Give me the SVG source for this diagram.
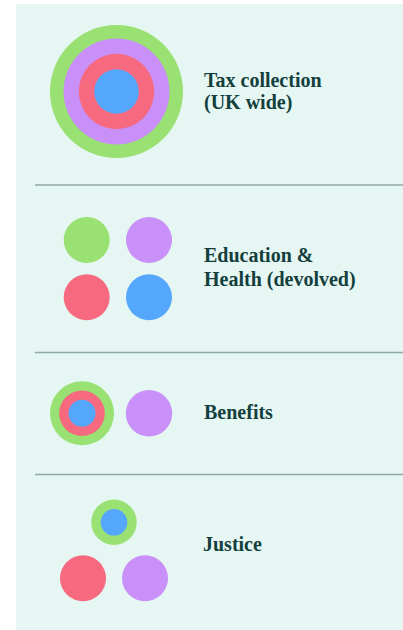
<svg xmlns="http://www.w3.org/2000/svg" width="403" height="630" viewBox="0 0 403 630">
<style>
.g{fill:#98e172}.p{fill:#c890f8}.r{fill:#f7697e}.b{fill:#55a7fd}
.t{font-family:"Liberation Serif","DejaVu Serif",serif;font-weight:bold;font-size:20px;fill:#133f3d}
.sep{stroke:#8fa9a6;stroke-width:1.5}
</style>
<rect x="16" y="4" width="387" height="626" fill="#e6f6f3"/>
<g id="separators">
<line class="sep" x1="35" y1="185" x2="403" y2="185"/>
<line class="sep" x1="35" y1="352.5" x2="403" y2="352.5"/>
<line class="sep" x1="35" y1="474.5" x2="403" y2="474.5"/>
</g>
<g id="tax">
<circle class="g" cx="116.5" cy="91.5" r="66.5"/>
<circle class="p" cx="116.5" cy="91.5" r="53"/>
<circle class="r" cx="116.5" cy="91.5" r="37.7"/>
<circle class="b" cx="116.5" cy="91.5" r="22.3"/>
<text class="t" x="204" y="86.5">Tax collection</text>
<text class="t" x="204" y="109">(UK wide)</text>
</g>
<g id="education">
<circle class="g" cx="86.7" cy="240" r="23"/>
<circle class="p" cx="149" cy="240" r="23"/>
<circle class="r" cx="86.7" cy="297.3" r="23"/>
<circle class="b" cx="149" cy="297.3" r="23"/>
<text class="t" x="204" y="261.5">Education &amp;</text>
<text class="t" x="204" y="286">Health (devolved)</text>
</g>
<g id="benefits">
<circle class="g" cx="82" cy="413.3" r="32"/>
<circle class="r" cx="82" cy="413.3" r="22.8"/>
<circle class="b" cx="82" cy="413.3" r="13.5"/>
<circle class="p" cx="149" cy="413.3" r="23.2"/>
<text class="t" x="204" y="419">Benefits</text>
</g>
<g id="justice">
<circle class="g" cx="114" cy="522.3" r="22.7"/>
<circle class="b" cx="114" cy="522.3" r="13.3"/>
<circle class="r" cx="83" cy="578.3" r="23"/>
<circle class="p" cx="145" cy="578.3" r="23"/>
<text class="t" x="203" y="550.7">Justice</text>
</g>
</svg>
